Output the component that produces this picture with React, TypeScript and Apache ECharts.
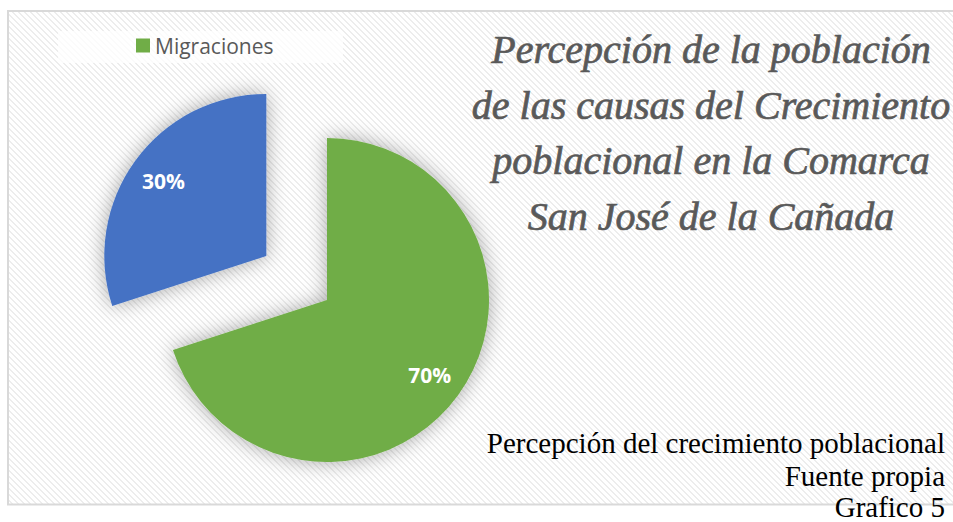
import React, { useEffect, useRef } from "react";
import * as echarts from "echarts";

const sliceNames = ["Migraciones", ""];
const sliceValues = [70, 30];
const sliceColors = ["#70AD47", "#4472C4"];
const sliceExploded = [false, true];
const legendItems = ["Migraciones"];
const titleLines = [
  "Percepción de la población",
  "de las causas del Crecimiento",
  "poblacional en la Comarca",
  "San José de la Cañada",
];
const footerLines = [
  "Percepción del crecimiento poblacional",
  "Fuente propia",
  "Grafico 5",
];

function makeHatch(): HTMLCanvasElement {
  const n = 12;
  const c = document.createElement("canvas");
  c.width = n;
  c.height = n;
  const ctx = c.getContext("2d")!;
  ctx.fillStyle = "#ffffff";
  ctx.fillRect(0, 0, n, n);
  ctx.fillStyle = "#ededed";
  for (let y = 0; y < n; y++) {
    for (let x = 0; x < n; x++) {
      if ((((x - y) % 6) + 6) % 6 < 2) ctx.fillRect(x, y, 1, 1);
    }
  }
  return c;
}

export default function App() {
  const ref = useRef<HTMLDivElement>(null);
  useEffect(() => {
    if (!ref.current) return;
    const chart = echarts.init(ref.current, null, { renderer: "svg" });
    const hatch = makeHatch();
    const data = sliceValues.map((v, i) => ({
      name: sliceNames[i],
      value: v,
      selected: sliceExploded[i],
      itemStyle: { color: sliceColors[i] },
    }));
    const overlayData = sliceValues.map((v, i) => ({
      name: sliceNames[i],
      value: v,
      selected: sliceExploded[i],
    }));
    const center = [327, 300];
    const footerTops = [426, 459.5, 492.5];
    const footerTexts = footerLines.map((t, i) => ({
      type: "text",
      silent: true,
      x: 945,
      y: footerTops[i],
      style: {
        text: t,
        fontFamily: "Liberation Serif",
        fontSize: 29,
        lineHeight: i === footerLines.length - 1 ? 29 : 33.5,
        fill: "#000000",
        align: "right",
        verticalAlign: "top",
      },
    }));
    chart.setOption({
      animation: false,
      backgroundColor: "#ffffff",
      legend: {
        data: legendItems,
        left: 136,
        top: 35,
        padding: 0,
        icon: "rect",
        itemWidth: 14,
        itemHeight: 14,
        selectedMode: false,
        textStyle: { fontFamily: "Open Sans", fontSize: 21, color: "#595959" },
      },
      graphic: [
        {
          type: "rect",
          z: -10,
          silent: true,
          shape: { x: 8, y: 11, width: 1000, height: 493.5 },
          style: {
            fill: { image: hatch, repeat: "repeat", imageWidth: 12, imageHeight: 12 } as any,
            stroke: "#d9d9d9",
            lineWidth: 2,
          },
        },
        {
          type: "rect",
          z: -5,
          silent: true,
          shape: { x: 58, y: 31, width: 285, height: 32 },
          style: { fill: "rgba(255,255,255,0.75)" },
        },
        {
          type: "text",
          silent: true,
          x: 711,
          y: 22,
          style: {
            text: titleLines.join("\n"),
            fontFamily: "Liberation Serif",
            fontStyle: "italic",
            fontSize: 40,
            lineHeight: 55.5,
            fill: "#595959",
            stroke: "#595959",
            lineWidth: 0.7,
            align: "center",
            verticalAlign: "top",
          },
        },
        ...footerTexts,
      ],
      series: [
        {
          type: "pie",
          center,
          radius: [0, 162],
          startAngle: 90,
          clockwise: true,
          selectedMode: "single",
          selectedOffset: 75,
          silent: true,
          label: { show: false },
          labelLine: { show: false },
          itemStyle: {
            shadowBlur: 20,
            shadowColor: "rgba(0,0,0,0.35)",
          },
          emphasis: { disabled: true },
          data,
        },
        {
          type: "pie",
          center,
          radius: [86, 162],
          startAngle: 90,
          clockwise: true,
          selectedMode: "single",
          selectedOffset: 75,
          silent: true,
          z: 5,
          itemStyle: { color: "rgba(0,0,0,0)" },
          labelLine: { show: false },
          label: {
            show: true,
            position: "inside",
            formatter: "{d}%",
            color: "#ffffff",
            fontFamily: "Open Sans",
            fontWeight: "bold",
            fontSize: 21,
          },
          emphasis: { disabled: true },
          data: overlayData,
        },
      ],
    });
    return () => chart.dispose();
  }, []);
  return (
    <div
      ref={ref}
      style={{ position: "fixed", left: 0, top: 0, width: 953, height: 522 }}
    />
  );
}
